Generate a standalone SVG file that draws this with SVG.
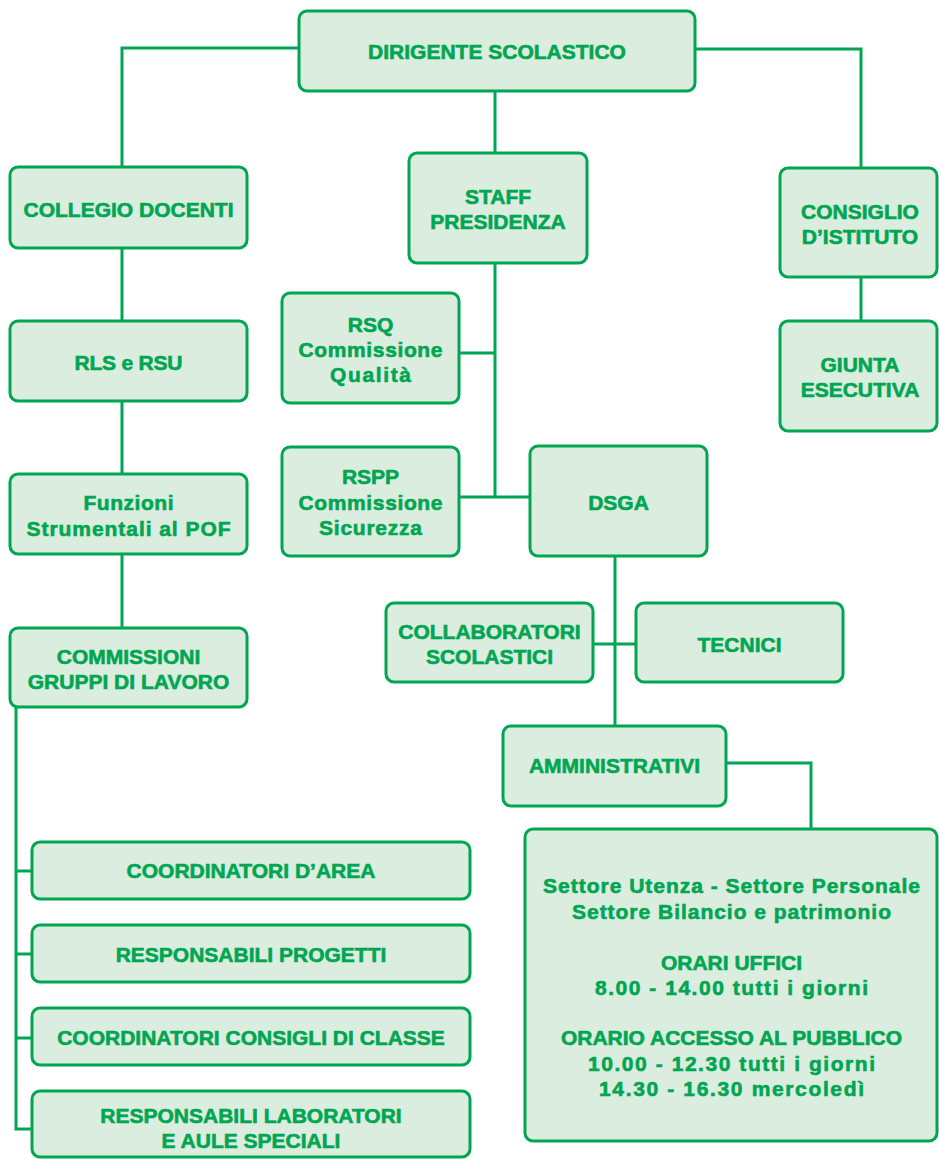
<svg xmlns="http://www.w3.org/2000/svg" width="939" height="1159" viewBox="0 0 939 1159">
<style>
.box{fill:#DAEDDF;stroke:#00A651;stroke-width:3}
.ln{fill:none;stroke:#00A651;stroke-width:3}
text{font-family:"Liberation Sans",Arial,sans-serif;font-weight:bold;font-size:21px;fill:#00A651;stroke:#00A651;stroke-width:0.6;text-anchor:middle}
</style>
<rect width="939" height="1159" fill="#ffffff"/>
<g id="connectors">
<path class="ln" d="M299,48 H122 V167"/>
<path class="ln" d="M695,49 H861 V168"/>
<path class="ln" d="M495,91 V153"/>
<path class="ln" d="M122,248 V321"/>
<path class="ln" d="M122,401 V474"/>
<path class="ln" d="M122,554 V628"/>
<path class="ln" d="M861,277 V321"/>
<path class="ln" d="M495,263 V497"/>
<path class="ln" d="M459,353 H495"/>
<path class="ln" d="M459,497 H530"/>
<path class="ln" d="M615,556 V726"/>
<path class="ln" d="M593,644 H636"/>
<path class="ln" d="M726,763 H811 V829"/>
<path class="ln" d="M16,707 V1129 H32"/>
<path class="ln" d="M16,871 H32 M16,954 H32 M16,1038 H32"/>
</g>
<g id="dirigente"><rect class="box" x="299" y="11" width="396" height="80" rx="8"/><text x="497" y="59">DIRIGENTE SCOLASTICO</text></g>
<g id="collegio"><rect class="box" x="10" y="167" width="237" height="81" rx="8"/><text x="128.5" y="217">COLLEGIO DOCENTI</text></g>
<g id="staff"><rect class="box" x="409" y="153" width="178" height="110" rx="8"/><text x="498" y="204">STAFF</text><text x="498" y="229">PRESIDENZA</text></g>
<g id="consiglio"><rect class="box" x="780" y="168" width="157" height="109" rx="8"/><text x="860" y="219">CONSIGLIO</text><text x="860" y="244">D’ISTITUTO</text></g>
<g id="rls"><rect class="box" x="10" y="321" width="237" height="80" rx="8"/><text x="128.5" y="370" textLength="108">RLS e RSU</text></g>
<g id="rsq"><rect class="box" x="282" y="293" width="177" height="110" rx="8"/><text x="370.5" y="332">RSQ</text><text x="370.5" y="357" textLength="144">Commissione</text><text x="370.5" y="382" textLength="81">Qualità</text></g>
<g id="giunta"><rect class="box" x="780" y="321" width="157" height="110" rx="8"/><text x="860" y="372">GIUNTA</text><text x="860" y="397">ESECUTIVA</text></g>
<g id="funzioni"><rect class="box" x="10" y="474" width="237" height="80" rx="8"/><text x="128.5" y="510" textLength="90">Funzioni</text><text x="128.5" y="536" textLength="204">Strumentali al POF</text></g>
<g id="rspp"><rect class="box" x="282" y="447" width="177" height="109" rx="8"/><text x="370.5" y="484">RSPP</text><text x="370.5" y="510" textLength="144">Commissione</text><text x="370.5" y="535" textLength="103">Sicurezza</text></g>
<g id="dsga"><rect class="box" x="530" y="446" width="177" height="110" rx="8"/><text x="618.5" y="510">DSGA</text></g>
<g id="commissioni"><rect class="box" x="10" y="628" width="237" height="79" rx="8"/><text x="128.5" y="664">COMMISSIONI</text><text x="128.5" y="689">GRUPPI DI LAVORO</text></g>
<g id="collaboratori"><rect class="box" x="386" y="603" width="207" height="79" rx="8"/><text x="489.5" y="639">COLLABORATORI</text><text x="489.5" y="664">SCOLASTICI</text></g>
<g id="tecnici"><rect class="box" x="636" y="603" width="207" height="79" rx="8"/><text x="739.5" y="652">TECNICI</text></g>
<g id="amministrativi"><rect class="box" x="503" y="726" width="223" height="80" rx="8"/><text x="614.5" y="773">AMMINISTRATIVI</text></g>
<g id="uffici"><rect class="box" x="525" y="829" width="412" height="312" rx="8"/>
<text x="731.5" y="893" textLength="377">Settore Utenza - Settore Personale</text>
<text x="731.5" y="919" textLength="319">Settore Bilancio e patrimonio</text>
<text x="731.5" y="970">ORARI UFFICI</text>
<text x="731.5" y="995" textLength="273">8.00 - 14.00 tutti i giorni</text>
<text x="731.5" y="1045">ORARIO ACCESSO AL PUBBLICO</text>
<text x="731.5" y="1071" textLength="287">10.00 - 12.30 tutti i giorni</text>
<text x="731.5" y="1096" textLength="265">14.30 - 16.30 mercoledì</text>
</g>
<g id="coord-area"><rect class="box" x="32" y="842" width="438" height="57" rx="8"/><text x="251" y="878">COORDINATORI D’AREA</text></g>
<g id="resp-progetti"><rect class="box" x="32" y="925" width="438" height="57" rx="8"/><text x="251" y="962">RESPONSABILI PROGETTI</text></g>
<g id="coord-consigli"><rect class="box" x="32" y="1008" width="438" height="57" rx="8"/><text x="251" y="1045">COORDINATORI CONSIGLI DI CLASSE</text></g>
<g id="resp-lab"><rect class="box" x="32" y="1091" width="438" height="66" rx="8"/><text x="251" y="1123">RESPONSABILI LABORATORI</text><text x="251" y="1148">E AULE SPECIALI</text></g>
</svg>
